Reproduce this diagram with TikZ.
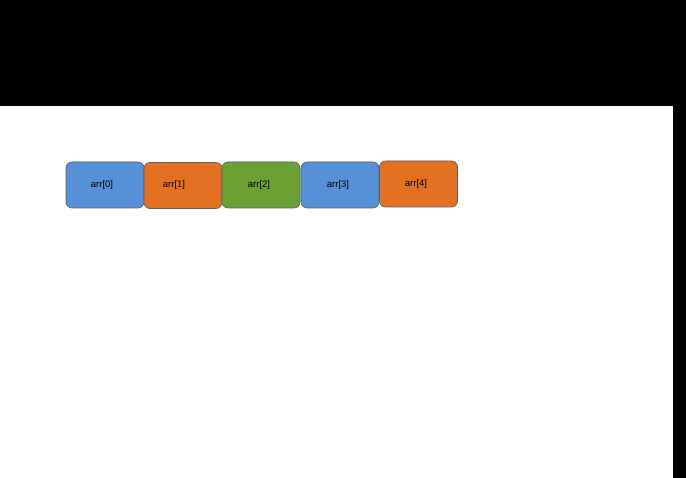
\documentclass[tikz,border=0pt]{standalone}
\usepackage{fontspec}
\setmainfont{Liberation Sans}
\usetikzlibrary{positioning}
\definecolor{xblue}{RGB}{86,144,214}
\definecolor{xorange}{RGB}{228,113,34}
\definecolor{xgreen}{RGB}{107,161,51}
\definecolor{xedge}{RGB}{85,95,105}

\begin{document}
\begin{tikzpicture}[x=1pt, y=-1pt,
  cell/.style={draw=xedge, rounded corners=6pt, line width=0.6pt,
               minimum width=78pt, minimum height=46pt, inner sep=0pt,
               font=\fontsize{9.5}{11}\selectfont, text=black, align=center},
  bluecell/.style={cell, fill=xblue},
  orangecell/.style={cell, fill=xorange},
  greencell/.style={cell, fill=xgreen}
]
  \useasboundingbox (0,0) rectangle (686,478);
  \fill[white] (0,0) rectangle (686,478);

  % black frame at top and right
  \fill[black] (0,0) rectangle (686,106);
  \fill[black] (673,106) rectangle (686,478);

  % array cells
  \node[bluecell]   (arr0) at (105,185)   {arr[0]\hspace{6pt}};
  \node[orangecell] (arr1) at (183,185.5) {arr[1]\hspace{18pt}};
  \node[greencell]  (arr2) at (261,185)   {arr[2]\hspace{4pt}};
  \node[bluecell]   (arr3) at (340,185)   {arr[3]\hspace{4pt}};
  \node[orangecell] (arr4) at (418.5,184) {arr[4]\hspace{5pt}};
\end{tikzpicture}
\end{document}
